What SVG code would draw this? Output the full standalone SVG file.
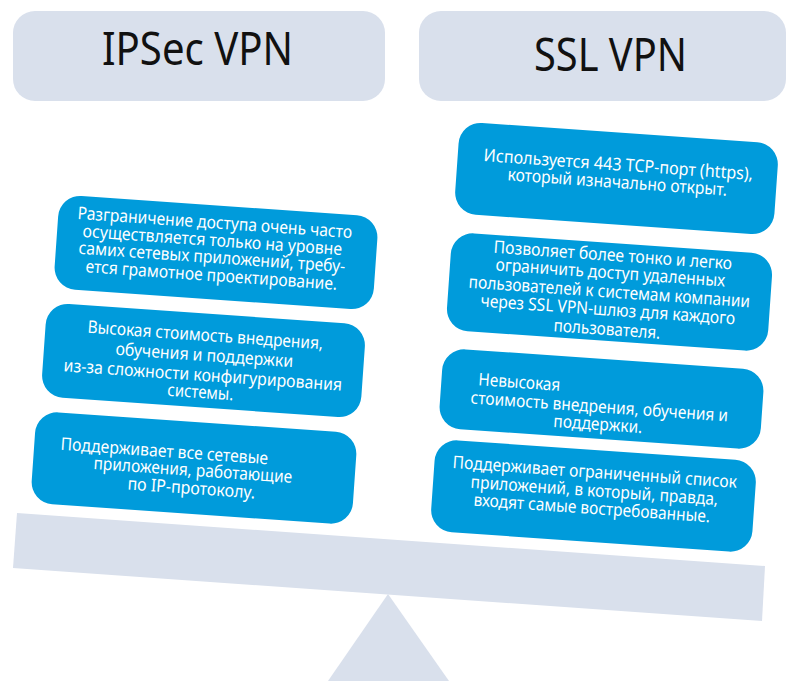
<svg xmlns="http://www.w3.org/2000/svg" width="792" height="681" viewBox="0 0 792 681">
  <style>
    .head { fill: #d9e0ec; }
    .head-t { font-family: "Noto Sans", "Liberation Sans", sans-serif; font-size: 46px; fill: #111; text-anchor: middle; }
    .card { fill: #009bdb; }
    .t { font-family: "Noto Sans", "Liberation Sans", sans-serif; font-size: 17.5px; fill: #ffffff; text-anchor: middle; }
    .scale { fill: #d9e0ec; }
  </style>

  <!-- column headers -->
  <g id="head-ipsec">
    <rect class="head" x="13" y="11" width="372" height="90" rx="22"/>
    <text class="head-t" x="197.5" y="65" textLength="191" lengthAdjust="spacingAndGlyphs">IPSec VPN</text>
  </g>
  <g id="head-ssl">
    <rect class="head" x="419" y="11" width="367" height="90" rx="22"/>
    <text class="head-t" x="610.5" y="71" textLength="153" lengthAdjust="spacingAndGlyphs">SSL VPN</text>
  </g>

  <!-- scale: beam and fulcrum -->
  <g id="scale">
    <polygon class="scale" points="388,594 449,681 328,681"/>
    <polygon class="scale" points="17,513 765,566 762,621 13,568"/>
  </g>

  <!-- IPSec cards -->
  <g id="ipsec-1">
    <rect class="card" x="-160" y="-47" width="320" height="94" rx="22" transform="translate(216,252.5) rotate(4)"/>
    <text class="t" transform="translate(214.5,228.5) rotate(4)" textLength="275" lengthAdjust="spacingAndGlyphs">Разграничение доступа очень часто</text>
    <text class="t" transform="translate(212,246) rotate(4)" textLength="260" lengthAdjust="spacingAndGlyphs">осуществляется только на уровне</text>
    <text class="t" transform="translate(211.5,263) rotate(4)" textLength="267" lengthAdjust="spacingAndGlyphs">самих сетевых приложений, требу-</text>
    <text class="t" transform="translate(211,281) rotate(4)" textLength="252" lengthAdjust="spacingAndGlyphs">ется грамотное проектирование.</text>
  </g>
  <g id="ipsec-2">
    <rect class="card" x="-160" y="-47" width="320" height="94" rx="22" transform="translate(203.5,360.5) rotate(4)"/>
    <text class="t" transform="translate(205,341) rotate(4)" textLength="236" lengthAdjust="spacingAndGlyphs">Высокая стоимость внедрения,</text>
    <text class="t" transform="translate(204,361) rotate(4)" textLength="178" lengthAdjust="spacingAndGlyphs">обучения и поддержки</text>
    <text class="t" transform="translate(202.5,381) rotate(4)" textLength="279" lengthAdjust="spacingAndGlyphs">из-за сложности конфигурирования</text>
    <text class="t" transform="translate(200,398) rotate(4)" textLength="66" lengthAdjust="spacingAndGlyphs">системы.</text>
  </g>
  <g id="ipsec-3">
    <rect class="card" x="-161" y="-46" width="322" height="92" rx="22" transform="translate(194,468) rotate(4)"/>
    <text class="t" transform="translate(164,457) rotate(4)" textLength="208" lengthAdjust="spacingAndGlyphs">Поддерживает все сетевые</text>
    <text class="t" transform="translate(192.5,476) rotate(4)" textLength="199" lengthAdjust="spacingAndGlyphs">приложения, работающие</text>
    <text class="t" transform="translate(191,494) rotate(4)" textLength="128" lengthAdjust="spacingAndGlyphs">по IP-протоколу.</text>
  </g>

  <!-- SSL cards -->
  <g id="ssl-1">
    <rect class="card" x="-160" y="-46" width="320" height="92" rx="22" transform="translate(616.5,178.5) rotate(4)"/>
    <text class="t" transform="translate(618,170.5) rotate(4)" textLength="270" lengthAdjust="spacingAndGlyphs">Используется 443 TCP-порт (https),</text>
    <text class="t" transform="translate(617,188) rotate(4)" textLength="220" lengthAdjust="spacingAndGlyphs">который изначально открыт.</text>
  </g>
  <g id="ssl-2">
    <rect class="card" x="-161" y="-49" width="322" height="98" rx="22" transform="translate(609.5,292) rotate(4)"/>
    <text class="t" transform="translate(612.5,261) rotate(4)" textLength="239" lengthAdjust="spacingAndGlyphs">Позволяет более тонко и легко</text>
    <text class="t" transform="translate(610,278.5) rotate(4)" textLength="230" lengthAdjust="spacingAndGlyphs">ограничить доступ удаленных</text>
    <text class="t" transform="translate(609,297.5) rotate(4)" textLength="282" lengthAdjust="spacingAndGlyphs">пользователей к системам компании</text>
    <text class="t" transform="translate(607.5,315.5) rotate(4)" textLength="255" lengthAdjust="spacingAndGlyphs">через SSL VPN-шлюз для каждого</text>
    <text class="t" transform="translate(606.5,335) rotate(4)" textLength="107" lengthAdjust="spacingAndGlyphs">пользователя.</text>
  </g>
  <g id="ssl-3">
    <rect class="card" x="-161" y="-40" width="322" height="80" rx="22" transform="translate(601.5,399) rotate(4)"/>
    <text class="t" transform="translate(519,388) rotate(4)" textLength="82" lengthAdjust="spacingAndGlyphs">Невысокая</text>
    <text class="t" transform="translate(599,412.5) rotate(4)" textLength="258" lengthAdjust="spacingAndGlyphs">стоимость внедрения, обучения и</text>
    <text class="t" transform="translate(597.5,430) rotate(4)" textLength="89" lengthAdjust="spacingAndGlyphs">поддержки.</text>
  </g>
  <g id="ssl-4">
    <rect class="card" x="-161" y="-46" width="322" height="92" rx="22" transform="translate(593.5,496) rotate(4)"/>
    <text class="t" transform="translate(594.5,478) rotate(4)" textLength="285" lengthAdjust="spacingAndGlyphs">Поддерживает ограниченный список</text>
    <text class="t" transform="translate(594,496.5) rotate(4)" textLength="248" lengthAdjust="spacingAndGlyphs">приложений, в который, правда,</text>
    <text class="t" transform="translate(591.5,514) rotate(4)" textLength="237" lengthAdjust="spacingAndGlyphs">входят самые востребованные.</text>
  </g>
</svg>
